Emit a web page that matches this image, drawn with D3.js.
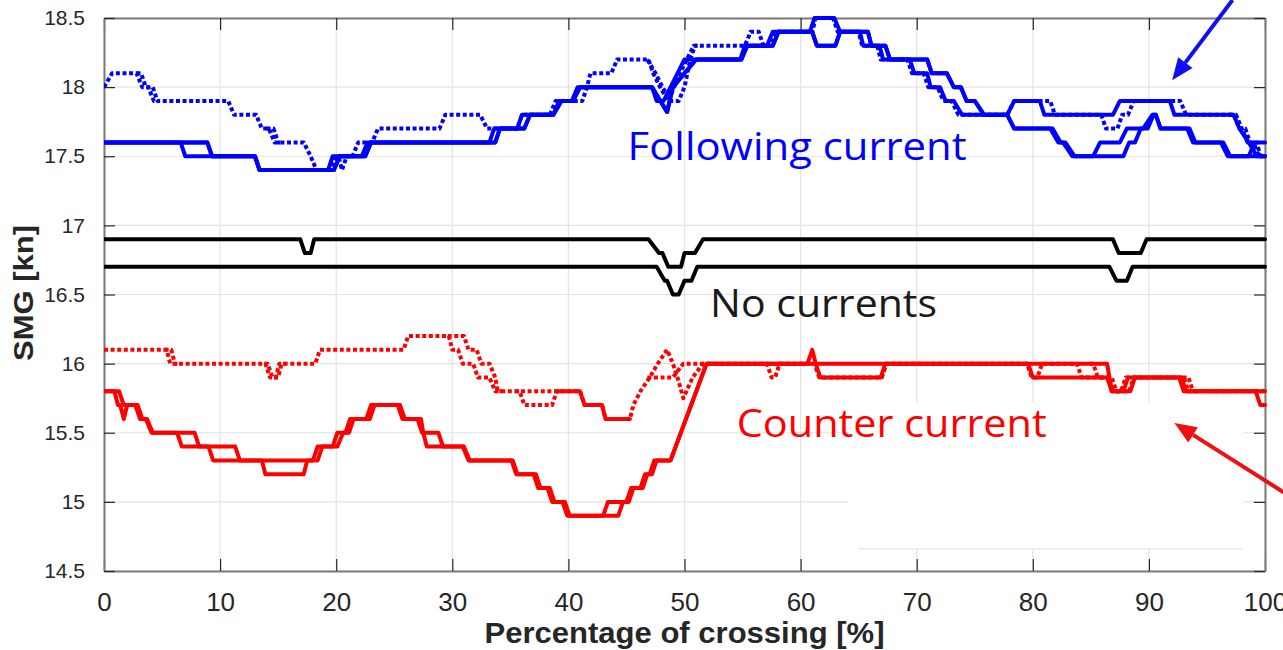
<!DOCTYPE html>
<html><head><meta charset="utf-8">
<script src="https://cdn.jsdelivr.net/npm/d3@7/dist/d3.min.js"></script>
<style>html,body{margin:0;padding:0;background:#fff;overflow:hidden}</style>
</head><body>
<svg id="chart" width="1283" height="650"></svg>
<script>
// ---------- DATA (percentage of crossing [%], SMG [kn]) ----------
const xTicks = [0,10,20,30,40,50,60,70,80,90,100];
const yTicks = [14.5,15,15.5,16,16.5,17,17.5,18,18.5];
const xTickLabels = ["0","10","20","30","40","50","60","70","80","90","100"];
const yTickLabels = ["14.5","15","15.5","16","16.5","17","17.5","18","18.5"];

// Following current (blue)
const blueSolidA = [[0,17.6],[6.6,17.6],[7.0,17.5],[13.0,17.5],[13.4,17.4],[19.3,17.4],[19.7,17.5],[22.2,17.5],[22.7,17.6],[33.2,17.6],[33.6,17.7],[35.6,17.7],[36.0,17.8],[38.7,17.8],[39.2,17.9],[40.3,17.9],[40.8,18.0],[47.2,18.0],[47.6,17.9],[48.2,17.9],[48.8,18.0],[49.4,18.1],[50.0,18.2],[54.8,18.2],[55.2,18.3],[57.1,18.3],[57.6,18.4],[60.8,18.4],[61.2,18.5],[62.9,18.5],[63.4,18.4],[65.1,18.4],[65.4,18.3],[66.8,18.3],[67.1,18.2],[69.4,18.2],[69.8,18.1],[70.9,18.1],[71.2,18.0],[72.0,18.0],[72.5,17.9],[73.2,17.9],[73.9,17.8],[77.8,17.8],[78.4,17.9],[80.6,17.9],[81.0,17.8],[86.9,17.8],[87.5,17.9],[91.8,17.9],[92.2,17.8],[97.3,17.8],[97.8,17.7],[98.6,17.6],[99.3,17.5],[100,17.5]];
const blueSolidB = [[0,17.6],[8.9,17.6],[9.3,17.5],[13.0,17.5],[13.4,17.4],[19.8,17.4],[20.3,17.5],[22.5,17.5],[23.0,17.6],[33.7,17.6],[34.1,17.7],[36.2,17.7],[36.7,17.8],[38.7,17.8],[39.4,17.9],[40.4,17.9],[41.0,18.0],[47.2,18.0],[48.5,17.82],[49.0,18.0],[50.0,18.1],[51.0,18.2],[54.9,18.2],[55.4,18.3],[57.6,18.3],[58.1,18.4],[61.0,18.4],[61.4,18.3],[63.0,18.3],[63.4,18.4],[65.8,18.4],[66.1,18.3],[67.3,18.3],[67.7,18.2],[70.9,18.2],[71.3,18.1],[72.6,18.1],[73.2,18.0],[73.8,18.0],[74.3,17.9],[75.0,17.9],[75.8,17.8],[77.8,17.8],[78.4,17.7],[81.5,17.7],[82.2,17.6],[82.6,17.6],[83.4,17.5],[85.2,17.5],[85.8,17.6],[87.5,17.6],[88.1,17.7],[89.5,17.7],[90.3,17.8],[90.6,17.8],[91.0,17.7],[93.5,17.7],[94.0,17.6],[96.4,17.6],[97.0,17.5],[98.6,17.5],[99.1,17.6],[100,17.6]];
const blueSolidC = [[0,17.6],[8.9,17.6],[9.3,17.5],[13.0,17.5],[13.4,17.4],[19.8,17.4],[20.3,17.5],[22.5,17.5],[23.0,17.6],[33.7,17.6],[34.1,17.7],[36.2,17.7],[36.7,17.8],[38.7,17.8],[39.4,17.9],[40.4,17.9],[41.0,18.0],[47.2,18.0],[48.5,17.82],[49.0,18.0],[50.0,18.1],[51.0,18.2],[54.9,18.2],[55.4,18.3],[57.6,18.3],[58.1,18.4],[61.0,18.4],[61.4,18.3],[63.0,18.3],[63.4,18.4],[65.8,18.4],[66.1,18.3],[67.3,18.3],[67.7,18.2],[70.9,18.2],[71.3,18.1],[72.6,18.1],[73.2,18.0],[73.8,18.0],[74.3,17.9],[75.0,17.9],[75.8,17.8],[77.8,17.8],[78.4,17.7],[81.7,17.7],[82.4,17.6],[82.8,17.6],[83.6,17.5],[87.8,17.5],[88.3,17.6],[88.8,17.6],[89.3,17.7],[89.9,17.7],[90.4,17.8],[90.6,17.8],[91.0,17.7],[93.3,17.7],[93.8,17.6],[96.2,17.6],[96.8,17.5],[100,17.5]];
const blueDotA = [[0,18.0],[0.7,18.1],[2.8,18.1],[3.3,18.0],[4.2,18.0],[4.6,17.9],[10.7,17.9],[11.2,17.8],[13.1,17.8],[13.6,17.7],[14.2,17.7],[14.7,17.6],[17.2,17.6],[17.8,17.5],[18.3,17.4],[19.6,17.4],[20.0,17.5],[21.4,17.5],[21.9,17.6],[23.1,17.6],[23.6,17.7],[28.9,17.7],[29.4,17.8],[32.4,17.8],[33.0,17.7],[35.6,17.7],[36.0,17.8],[38.4,17.8],[38.9,17.9],[41.2,17.9],[41.6,18.0],[41.9,18.1],[43.7,18.1],[44.2,18.2],[46.9,18.2],[47.3,18.1],[47.9,18.0],[48.6,17.9],[49.1,18.0],[49.6,18.1],[50.2,18.2],[50.8,18.3],[55.2,18.3],[55.7,18.4],[56.4,18.4],[56.8,18.3],[57.3,18.3],[57.8,18.4],[61.0,18.4],[61.3,18.5],[62.8,18.5],[63.2,18.4],[65.0,18.4],[65.3,18.3],[66.6,18.3],[66.9,18.2],[69.2,18.2],[69.6,18.1],[70.6,18.1],[71.0,18.0],[71.8,18.0],[72.3,17.9],[73.0,17.9],[73.6,17.8],[77.8,17.8],[78.4,17.9],[81.5,17.9],[81.9,17.8],[85.9,17.8],[86.3,17.7],[87.3,17.7],[87.7,17.8],[88.2,17.8],[88.7,17.9],[92.7,17.9],[93.2,17.8],[97.3,17.8],[97.8,17.7],[98.3,17.7],[98.7,17.6],[99.3,17.6],[99.6,17.5],[100,17.5]];
// second dotted run: only the stretches where it leaves the first one
const blueDotB = [
  [[2.8,18.1],[3.2,18.1],[3.6,18.0],[3.8,18.0],[4.3,17.9],[4.7,17.9]],
  [[14.0,17.7],[14.6,17.7],[15.0,17.6],[15.4,17.6]],
  [[19.5,17.4],[19.8,17.4],[20.2,17.5],[20.5,17.4],[20.9,17.5],[21.4,17.5]],
  [[46.8,18.2],[47.5,18.1],[48.1,18.0],[48.8,17.9],[49.5,17.9],[50.0,18.0],[50.5,18.2],[50.9,18.3],[51.4,18.3]],
  [[96.9,17.8],[97.5,17.8],[98.0,17.7],[98.5,17.6],[99.0,17.6],[99.5,17.5],[100,17.5]]
];

// No currents (black)
const blackA = [[0,16.9],[16.9,16.9],[17.3,16.8],[17.8,16.8],[18.1,16.9],[46.9,16.9],[47.8,16.8],[48.1,16.8],[48.6,16.7],[49.7,16.7],[50.0,16.8],[50.9,16.8],[51.6,16.9],[86.9,16.9],[87.4,16.8],[89.3,16.8],[89.8,16.9],[100,16.9]];
const blackB = [[0,16.7],[47.6,16.7],[48.3,16.6],[48.5,16.6],[49.0,16.5],[49.5,16.5],[50.0,16.6],[50.6,16.6],[51.1,16.7],[86.6,16.7],[87.2,16.6],[88.1,16.6],[88.6,16.7],[100,16.7]];

// Counter current (red)
const redSolidA = [[0,15.8],[0.9,15.8],[1.2,15.7],[1.4,15.7],[1.7,15.6],[2.0,15.7],[2.7,15.7],[3.1,15.6],[3.6,15.6],[4.1,15.5],[6.3,15.5],[6.7,15.4],[9.0,15.4],[9.4,15.3],[13.6,15.3],[13.9,15.2],[17.2,15.2],[17.5,15.3],[18.0,15.3],[18.4,15.4],[19.7,15.4],[20.1,15.5],[20.8,15.5],[21.2,15.6],[22.6,15.6],[23.0,15.7],[25.3,15.7],[25.7,15.6],[27.0,15.6],[27.4,15.5],[28.8,15.5],[29.2,15.4],[30.9,15.4],[31.4,15.3],[35.1,15.3],[35.5,15.2],[37.0,15.2],[37.4,15.1],[38.2,15.1],[38.6,15.0],[39.5,15.0],[39.9,14.9],[43.0,14.9],[43.4,15.0],[45.0,15.0],[45.4,15.1],[46.2,15.1],[46.6,15.2],[47.0,15.2],[47.4,15.3],[48.8,15.3],[51.9,16.0],[60.6,16.0],[61.0,16.1],[61.3,16.0],[61.7,15.9],[66.9,15.9],[67.3,16.0],[79.6,16.0],[80.0,15.9],[86.4,15.9],[86.8,15.8],[88.4,15.8],[88.8,15.9],[92.6,15.9],[93.0,15.8],[99.2,15.8],[99.6,15.7],[100,15.7]];
const redSolidB = [[0,15.8],[1.3,15.8],[1.7,15.7],[2.9,15.7],[3.3,15.6],[3.7,15.6],[4.2,15.5],[7.8,15.5],[8.2,15.4],[11.3,15.4],[11.7,15.3],[18.4,15.3],[18.8,15.4],[20.1,15.4],[20.6,15.5],[21.1,15.5],[21.5,15.6],[22.9,15.6],[23.3,15.7],[25.5,15.7],[25.9,15.6],[27.3,15.6],[27.5,15.5],[27.8,15.4],[31.0,15.4],[31.5,15.3],[35.2,15.3],[35.6,15.2],[37.2,15.2],[37.6,15.1],[38.4,15.1],[38.8,15.0],[39.7,15.0],[40.1,14.9],[44.3,14.9],[44.7,15.0],[45.2,15.0],[45.6,15.1],[46.4,15.1],[46.8,15.2],[47.2,15.2],[47.6,15.3],[48.8,15.3],[51.9,16.0],[86.4,16.0],[86.8,15.8],[87.8,15.8],[88.2,15.9],[92.8,15.9],[93.2,15.8],[100,15.8]];
const redDotA = [[0,16.1],[5.4,16.1],[5.7,16.0],[13.9,16.0],[14.3,15.9],[14.8,15.9],[15.1,16.0],[18.2,16.0],[18.6,16.1],[25.8,16.1],[26.2,16.2],[29.7,16.2],[30.0,16.1],[30.5,16.1],[30.9,16.0],[31.8,16.0],[32.2,15.9],[33.2,15.9],[33.7,15.8],[41.0,15.8],[41.4,15.7],[42.9,15.7],[43.2,15.6],[45.3,15.6],[45.6,15.7],[46.2,15.8],[47.0,15.9],[47.7,16.0],[48.5,16.1],[49.0,16.0],[49.4,15.9],[49.9,15.75],[50.7,15.9],[51.6,16.0],[57.1,16.0],[57.5,15.9],[57.8,15.9],[58.2,16.0],[61.2,16.0],[61.6,15.9],[67.0,15.9],[67.4,16.0],[79.5,16.0],[79.9,15.9],[80.4,15.9],[80.8,16.0],[83.8,16.0],[84.2,15.9],[86.5,15.9],[86.9,15.8],[87.6,15.8],[88.0,15.9],[93.0,15.9],[93.4,15.8],[100,15.8]];
// second dotted run: only where it leaves the first one (where both coincide, 39-45 %, they merge into a solid-looking trace)
const redDotB = [
  [[5.2,16.1],[5.8,16.1],[6.1,16.0],[6.6,16.0]],
  [[13.8,16.0],[14.1,16.0],[14.5,15.9],[15.0,15.9],[15.3,16.0],[15.7,16.0]],
  [[29.6,16.2],[31.0,16.2],[31.4,16.1],[32.1,16.1],[32.5,16.0],[33.2,16.0],[33.7,15.9],[33.9,15.8],[34.3,15.8]],
  [[35.4,15.8],[35.8,15.8],[36.2,15.7],[38.6,15.7],[39.0,15.8],[39.4,15.8]],
  [[46.8,15.9],[49.0,15.9],[49.9,16.0],[51.6,16.0]],
  [[84.9,16.0],[85.2,16.0],[85.6,15.9],[86.8,15.9],[87.2,15.8],[88.3,15.8],[88.7,15.9],[89.1,15.9]],
  [[92.9,15.9],[93.4,15.9],[93.8,15.8],[94.2,15.8]]
];
const redDotMerged = [[39.0,15.8],[41.0,15.8],[41.4,15.7],[42.9,15.7],[43.2,15.6],[45.3,15.6]];

const labels = [
  {text:"Following current", x:45.1, y:17.47, color:"#0000ff", len:339},
  {text:"No currents", x:52.2, y:16.34, color:"#1a1a1a", len:227},
  {text:"Counter current", x:54.5, y:15.47, color:"#ff0000", len:310}
];
const arrows = [
  {from:[97.2,18.63], to:[92.0,18.05], color:"#1010ee"},
  {from:[101.6,15.07], to:[92.2,15.57], color:"#ee1111"}
];
// covering box (an overlay in the original figure)
const coverBox = {x0:64.1, x1:98.1, y0:15.72, y1:14.66};

// ---------- DRAWING ----------
const svg = d3.select("#chart");
const L=104, R=1265, T=18, B=571;
const x = d3.scaleLinear().domain([0,100]).range([L,R]);
const y = d3.scaleLinear().domain([14.5,18.5]).range([B,T]);

// grid
const g = svg.append("g");
g.selectAll(".vg").data(xTicks).enter().append("line")
  .attr("x1",d=>x(d)).attr("x2",d=>x(d)).attr("y1",T).attr("y2",B)
  .attr("stroke","#e3e3e3").attr("stroke-width",1.2);
g.selectAll(".hg").data(yTicks).enter().append("line")
  .attr("x1",L).attr("x2",R).attr("y1",d=>y(d)).attr("y2",d=>y(d))
  .attr("stroke","#e3e3e3").attr("stroke-width",1.2);

// white overlay box
svg.append("rect").attr("x",x(coverBox.x0)).attr("y",y(coverBox.y0))
  .attr("width",x(coverBox.x1)-x(coverBox.x0)).attr("height",y(coverBox.y1)-y(coverBox.y0))
  .attr("fill","#fff");
svg.append("line").attr("x1",x(coverBox.x0)+10).attr("x2",x(coverBox.x1))
  .attr("y1",y(coverBox.y1)).attr("y2",y(coverBox.y1))
  .attr("stroke","#e6e6e6").attr("stroke-width",1.2);

// axes (MATLAB style box with inward ticks)
const tickColor="#262626";
const axB = d3.axisBottom(x).tickValues(xTicks).tickFormat((d,i)=>xTickLabels[i]).tickSizeInner(-12).tickSizeOuter(0).tickPadding(22);
const axT = d3.axisTop(x).tickValues(xTicks).tickFormat("").tickSizeInner(-12).tickSizeOuter(0);
const axL = d3.axisLeft(y).tickValues(yTicks).tickFormat((d,i)=>yTickLabels[i]).tickSizeInner(-11).tickSizeOuter(0).tickPadding(19);
const axR = d3.axisRight(y).tickValues(yTicks).tickFormat("").tickSizeInner(-11).tickSizeOuter(0);

function styleAxis(sel){
  sel.select(".domain").attr("stroke","#7a7a7a").attr("stroke-width",2);
  sel.selectAll(".tick line").attr("stroke",tickColor).attr("stroke-width",1.2);
  sel.selectAll(".tick text").attr("fill",tickColor);
}
const gB = svg.append("g").attr("transform",`translate(0,${B})`).call(axB); styleAxis(gB);
gB.selectAll(".tick text").attr("font-family","'Liberation Sans Narrow','Arial Narrow',sans-serif").attr("font-size",26);
const gT = svg.append("g").attr("transform",`translate(0,${T})`).call(axT); styleAxis(gT);
const gL = svg.append("g").attr("transform",`translate(${L},0)`).call(axL); styleAxis(gL);
gL.selectAll(".tick text").attr("font-family","'Liberation Sans',Arial,sans-serif").attr("font-size",21);
const gR = svg.append("g").attr("transform",`translate(${R},0)`).call(axR); styleAxis(gR);

// axis titles
svg.append("text").attr("x",(L+R)/2).attr("y",643).attr("text-anchor","middle")
  .attr("font-family","'Liberation Sans Narrow','Liberation Sans',Arial,sans-serif").attr("font-weight","bold")
  .attr("font-size",29).attr("fill","#262626").attr("textLength",400).attr("lengthAdjust","spacingAndGlyphs")
  .text("Percentage of crossing [%]");
svg.append("text").attr("transform",`translate(33,${293}) rotate(-90)`).attr("text-anchor","middle")
  .attr("font-family","'Liberation Sans',Arial,sans-serif").attr("font-weight","bold")
  .attr("font-size",27).attr("fill","#262626").attr("textLength",136).attr("lengthAdjust","spacingAndGlyphs")
  .text("SMG [kn]");

// series lines
const line = d3.line().x(d=>x(d[0])).y(d=>y(d[1]));
svg.append("clipPath").attr("id","pc").append("rect").attr("x",L).attr("y",T-4).attr("width",R-L+2).attr("height",B-T+8);
const lg = svg.append("g").attr("clip-path","url(#pc)");
function draw(data,color,dotted){
  lg.append("path").datum(data).attr("d",line).attr("fill","none")
    .attr("stroke",color).attr("stroke-width",4).attr("stroke-linejoin","round")
    .attr("stroke-linecap",dotted?"butt":"round")
    .attr("stroke-dasharray",dotted?"4,2.6":null);
}
draw(blackA,"#000",false); draw(blackB,"#000",false);
draw(redDotA,"#ff0000",true); redDotB.forEach(s=>draw(s,"#ff0000",true));
draw(redDotMerged,"#ff0000",false);
draw(redSolidA,"#ff0000",false); draw(redSolidB,"#ff0000",false);
draw(blueDotA,"#0000ff",true); blueDotB.forEach(s=>draw(s,"#0000ff",true));
draw(blueSolidA,"#0000ff",false); draw(blueSolidB,"#0000ff",false); draw(blueSolidC,"#0000ff",false);

// text annotations
labels.forEach(l=>{
  svg.append("text").attr("x",x(l.x)).attr("y",y(l.y))
    .attr("font-family","'Open Sans','Noto Sans',sans-serif").attr("font-size",39)
    .attr("fill",l.color).attr("textLength",l.len).attr("lengthAdjust","spacingAndGlyphs").text(l.text);
});

// arrows
arrows.forEach(a=>{
  const x1=x(a.from[0]), y1=y(a.from[1]), x2=x(a.to[0]), y2=y(a.to[1]);
  const ang=Math.atan2(y2-y1,x2-x1), hl=22, hw=9;
  const bx=x2-hl*Math.cos(ang), by=y2-hl*Math.sin(ang);
  svg.append("line").attr("x1",x1).attr("y1",y1).attr("x2",bx).attr("y2",by)
    .attr("stroke",a.color).attr("stroke-width",4);
  const px=-Math.sin(ang), py=Math.cos(ang);
  svg.append("polygon").attr("points",[[x2,y2],[bx+hw*px,by+hw*py],[bx-hw*px,by-hw*py]].map(p=>p.join(",")).join(" "))
    .attr("fill",a.color);
});
</script>
</body></html>
